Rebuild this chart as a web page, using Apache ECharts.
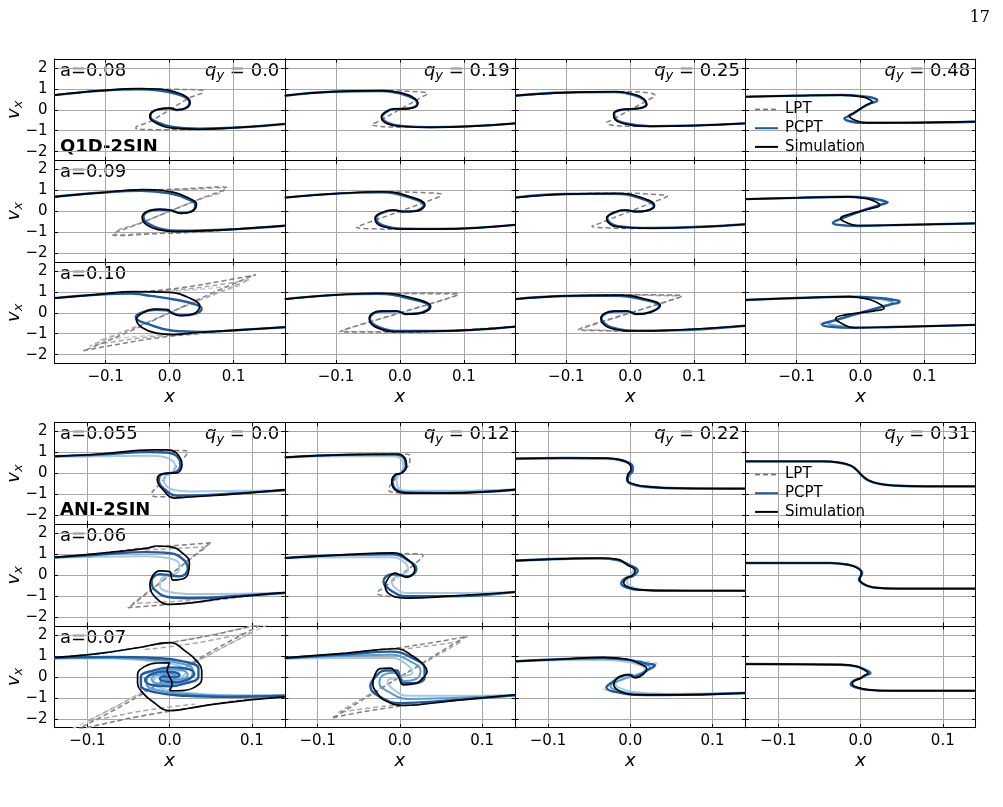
<!DOCTYPE html>
<html>
<head>
<meta charset="utf-8">
<script src="https://cdn.jsdelivr.net/npm/echarts@6.0.0/dist/echarts.min.js"></script>
<style>
  html, body { margin: 0; padding: 0; background: #fff; }
  #chart { width: 1003px; height: 807px; }
</style>
</head>
<body>
<div id="chart"></div>
<script>
// ---- labels and axis limits ----
const blockNames = ['Q1D-2SIN', 'ANI-2SIN'];
const q1dA = ['a=0.08', 'a=0.09', 'a=0.10'];
const q1dQy = ['0.0', '0.19', '0.25', '0.48'];
const aniA = ['a=0.055', 'a=0.06', 'a=0.07'];
const aniQy = ['0.0', '0.12', '0.22', '0.31'];
const xLimits = [0.18, 0.14];
const vLimit = 2.42;
const legendNames = ['LPT', 'PCPT', 'Simulation'];

// ---- Q1D-2SIN, a=0.08 ----
const q1d_a008_q000_lpt = [[-0.18,0.70],[-0.109,0.90],[-0.04,0.98],[0.02,0.97],[0.048,0.94],[0.053,0.89],[0.03,0.55],[0.0,0.0],[-0.03,-0.55],[-0.053,-0.87],[-0.048,-0.92],[-0.02,-0.95],[0.04,-0.95],[0.11,-0.84],[0.18,-0.68]];
const q1d_a008_q000_pcpt = [[-0.18,0.70],[-0.109,0.90],[-0.05,0.97],[-0.016,0.92],[0.010,0.76],[0.026,0.56],[0.031,0.33],[0.025,0.08],[0.012,-0.01],[0.0,0.07],[-0.015,0.03],[-0.028,-0.12],[-0.030,-0.33],[-0.019,-0.60],[0.005,-0.82],[0.047,-0.90],[0.11,-0.84],[0.18,-0.68]];
const q1d_a008_q000_sim = [[-0.18,0.70],[-0.109,0.91],[-0.047,1.01],[-0.016,0.99],[0.010,0.83],[0.026,0.62],[0.032,0.35],[0.026,0.08],[0.012,-0.01],[0.0,0.08],[-0.015,0.04],[-0.028,-0.12],[-0.031,-0.33],[-0.020,-0.65],[0.005,-0.88],[0.047,-0.93],[0.11,-0.84],[0.18,-0.68]];

const q1d_a008_q019_lpt = [[-0.18,0.67],[-0.104,0.86],[-0.02,0.90],[0.03,0.85],[0.043,0.77],[0.035,0.62],[0.0,0.02],[-0.035,-0.58],[-0.044,-0.70],[-0.035,-0.78],[0.0,-0.83],[0.047,-0.84],[0.18,-0.65]];
const q1d_a008_q019_pcpt = [[-0.18,0.67],[-0.104,0.86],[-0.03,0.89],[0.003,0.75],[0.022,0.52],[0.027,0.30],[0.020,0.10],[0.005,0.04],[-0.010,0.03],[-0.022,-0.12],[-0.028,-0.32],[-0.019,-0.62],[0.007,-0.78],[0.047,-0.83],[0.18,-0.65]];
const q1d_a008_q019_sim = [[-0.18,0.67],[-0.104,0.86],[-0.026,0.91],[0.005,0.78],[0.023,0.54],[0.028,0.31],[0.021,0.10],[0.005,0.04],[-0.010,0.04],[-0.023,-0.12],[-0.029,-0.33],[-0.021,-0.65],[0.005,-0.80],[0.047,-0.84],[0.18,-0.65]];

const q1d_a008_q025_lpt = [[-0.18,0.67],[-0.10,0.82],[-0.01,0.86],[0.03,0.80],[0.039,0.68],[0.03,0.50],[0.0,0.0],[-0.03,-0.50],[-0.037,-0.62],[-0.025,-0.75],[0.0,-0.79],[0.031,-0.79],[0.18,-0.65]];
const q1d_a008_q025_pcpt = [[-0.18,0.67],[-0.10,0.82],[-0.024,0.84],[0.008,0.68],[0.021,0.48],[0.025,0.25],[0.014,0.07],[0.0,0.03],[-0.015,-0.01],[-0.025,-0.18],[-0.024,-0.40],[-0.008,-0.64],[0.031,-0.78],[0.18,-0.65]];
const q1d_a008_q025_sim = [[-0.18,0.67],[-0.10,0.82],[-0.021,0.86],[0.010,0.70],[0.022,0.50],[0.026,0.26],[0.015,0.07],[0.0,0.04],[-0.015,0.0],[-0.026,-0.18],[-0.025,-0.40],[-0.010,-0.66],[0.031,-0.79],[0.18,-0.65]];

const q1d_a008_q048_lpt = [[-0.03,0.70],[0.012,0.62],[0.026,0.50],[0.027,0.44],[0.015,0.29],[0.0,0.05],[-0.015,-0.25],[-0.026,-0.43],[-0.021,-0.53],[0.0,-0.62]];
const q1d_a008_q048_pcpt = [[-0.18,0.62],[-0.10,0.67],[-0.03,0.70],[0.010,0.62],[0.024,0.52],[0.026,0.44],[0.015,0.30],[0.0,0.05],[-0.015,-0.25],[-0.025,-0.42],[-0.020,-0.52],[0.0,-0.62],[0.06,-0.62],[0.18,-0.57]];
const q1d_a008_q048_sim = [[-0.18,0.62],[-0.10,0.67],[-0.03,0.70],[0.005,0.60],[0.016,0.45],[0.018,0.38],[0.008,0.22],[0.0,0.05],[-0.010,-0.15],[-0.018,-0.28],[-0.012,-0.45],[0.010,-0.63],[0.06,-0.62],[0.18,-0.57]];

// ---- Q1D-2SIN, a=0.09 ----
const q1d_a009_q000_lpt = [[-0.18,0.69],[-0.11,0.88],[-0.04,1.0],[0.03,1.08],[0.08,1.16],[0.089,1.13],[0.05,0.62],[0.0,0.0],[-0.05,-0.62],[-0.089,-1.13],[-0.08,-1.16],[-0.03,-1.08],[0.04,-1.0],[0.11,-0.84],[0.18,-0.69]];
const q1d_a009_q000_lpt2 = [[-0.04,1.0],[0.03,1.05],[0.085,1.12],[0.086,1.08],[0.04,0.5],[0.0,0.0],[-0.04,-0.5],[-0.086,-1.08],[-0.085,-1.12],[-0.03,-1.05],[0.04,-1.0]];
const q1d_a009_q000_pcpt = [[-0.18,0.69],[-0.11,0.88],[-0.045,0.98],[0.0,0.85],[0.028,0.58],[0.040,0.30],[0.033,-0.02],[0.018,-0.08],[0.0,0.05],[-0.016,0.08],[-0.034,-0.02],[-0.041,-0.27],[-0.033,-0.60],[-0.012,-0.85],[0.015,-0.93],[0.05,-0.92],[0.11,-0.84],[0.18,-0.69]];
const q1d_a009_q000_sim = [[-0.18,0.69],[-0.11,0.88],[-0.042,1.03],[0.005,0.91],[0.031,0.61],[0.042,0.33],[0.034,-0.02],[0.018,-0.10],[0.0,0.06],[-0.016,0.09],[-0.036,-0.02],[-0.043,-0.29],[-0.036,-0.65],[-0.016,-0.89],[0.010,-0.97],[0.047,-0.94],[0.11,-0.84],[0.18,-0.69]];

const q1d_a009_q019_lpt = [[-0.18,0.65],[-0.10,0.84],[-0.02,0.92],[0.04,0.88],[0.065,0.80],[0.062,0.70],[0.0,0.0],[-0.062,-0.68],[-0.068,-0.76],[-0.04,-0.84],[0.0,-0.86],[0.06,-0.85],[0.18,-0.65]];
const q1d_a009_q019_pcpt = [[-0.18,0.65],[-0.10,0.84],[-0.028,0.90],[0.014,0.66],[0.037,0.30],[0.025,0.02],[0.005,-0.01],[-0.010,0.05],[-0.030,-0.10],[-0.037,-0.33],[-0.024,-0.70],[0.007,-0.83],[0.06,-0.84],[0.18,-0.65]];
const q1d_a009_q019_sim = [[-0.18,0.65],[-0.10,0.84],[-0.026,0.93],[0.016,0.69],[0.039,0.30],[0.026,0.01],[0.005,-0.02],[-0.010,0.06],[-0.031,-0.10],[-0.039,-0.34],[-0.026,-0.74],[0.005,-0.85],[0.06,-0.85],[0.18,-0.65]];

const q1d_a009_q025_lpt = [[-0.18,0.65],[-0.10,0.82],[-0.01,0.86],[0.04,0.80],[0.058,0.72],[0.05,0.60],[0.0,0.0],[-0.05,-0.60],[-0.06,-0.72],[-0.04,-0.79],[0.0,-0.82],[0.031,-0.81],[0.18,-0.62]];
const q1d_a009_q025_pcpt = [[-0.18,0.65],[-0.10,0.82],[-0.024,0.83],[0.013,0.65],[0.037,0.25],[0.024,0.02],[0.010,-0.01],[-0.008,0.05],[-0.024,-0.05],[-0.036,-0.32],[-0.019,-0.71],[0.031,-0.80],[0.18,-0.62]];
const q1d_a009_q025_sim = [[-0.18,0.65],[-0.10,0.82],[-0.021,0.85],[0.015,0.68],[0.038,0.26],[0.025,0.02],[0.010,-0.02],[-0.008,0.06],[-0.025,-0.05],[-0.037,-0.34],[-0.021,-0.74],[0.031,-0.81],[0.18,-0.62]];

const q1d_a009_q048_lpt = [[-0.02,0.69],[0.018,0.62],[0.038,0.50],[0.043,0.43],[0.03,0.30],[0.0,0.0],[-0.03,-0.35],[-0.044,-0.56],[-0.036,-0.65],[-0.005,-0.70]];
const q1d_a009_q048_pcpt = [[-0.18,0.58],[-0.10,0.64],[-0.02,0.69],[0.015,0.62],[0.035,0.50],[0.042,0.43],[0.030,0.30],[0.0,0.0],[-0.030,-0.35],[-0.043,-0.56],[-0.035,-0.65],[-0.005,-0.70],[0.05,-0.66],[0.18,-0.58]];
const q1d_a009_q048_sim = [[-0.18,0.58],[-0.10,0.64],[-0.02,0.69],[0.010,0.60],[0.026,0.42],[0.030,0.27],[0.018,0.15],[0.0,0.0],[-0.018,-0.15],[-0.031,-0.33],[-0.025,-0.50],[-0.005,-0.68],[0.05,-0.66],[0.18,-0.58]];

// ---- Q1D-2SIN, a=0.10 ----
const q1d_a010_q000_lpt = [[-0.18,0.70],[-0.11,0.88],[-0.045,1.0],[0.02,1.2],[0.08,1.5],[0.135,1.81],[0.125,1.70],[0.06,0.85],[0.0,0.0],[-0.06,-0.85],[-0.125,-1.70],[-0.135,-1.81],[-0.08,-1.5],[-0.02,-1.2],[0.045,-1.0],[0.11,-0.82],[0.18,-0.69]];
const q1d_a010_q000_lpt2 = [[-0.045,1.0],[0.03,1.15],[0.09,1.40],[0.125,1.58],[0.115,1.45],[0.05,0.65],[0.0,0.0],[-0.05,-0.65],[-0.115,-1.45],[-0.125,-1.58],[-0.09,-1.40],[-0.03,-1.15],[0.045,-1.0]];
const q1d_a010_q000_lpt3 = [[-0.04,0.98],[0.03,1.08],[0.09,1.25],[0.11,1.30],[0.10,1.20],[0.04,0.50],[0.0,0.0],[-0.04,-0.50],[-0.10,-1.20],[-0.11,-1.30],[-0.09,-1.25],[-0.03,-1.08],[0.04,-0.98]];
const q1d_a010_q000_pcpt = [[-0.18,0.70],[-0.11,0.87],[-0.06,0.92],[-0.042,0.86],[0.010,0.62],[0.042,0.38],[0.050,0.20],[0.040,-0.05],[0.020,-0.12],[0.003,0.0],[-0.005,0.12],[-0.022,0.14],[-0.045,0.0],[-0.053,-0.22],[-0.031,-0.57],[0.005,-0.86],[0.05,-0.91],[0.11,-0.82],[0.18,-0.69]];
const q1d_a010_q000_sim = [[-0.18,0.70],[-0.11,0.88],[-0.057,1.01],[0.0,0.97],[0.031,0.70],[0.047,0.31],[0.036,-0.06],[0.016,-0.14],[0.003,-0.01],[-0.003,0.15],[-0.021,0.18],[-0.042,-0.01],[-0.052,-0.33],[-0.042,-0.73],[-0.021,-0.97],[0.005,-1.04],[0.047,-0.93],[0.11,-0.82],[0.18,-0.69]];

const q1d_a010_q019_lpt = [[-0.18,0.65],[-0.10,0.85],[-0.02,0.93],[0.05,0.93],[0.092,0.92],[0.088,0.82],[0.0,0.0],[-0.088,-0.82],[-0.094,-0.90],[-0.05,-0.92],[0.0,-0.92],[0.06,-0.88],[0.18,-0.66]];
const q1d_a010_q019_lpt2 = [[-0.02,0.92],[0.05,0.90],[0.09,0.88],[0.085,0.78],[0.0,-0.02],[-0.085,-0.78],[-0.09,-0.88],[-0.05,-0.90],[0.0,-0.92]];
const q1d_a010_q019_pcpt = [[-0.18,0.65],[-0.10,0.85],[-0.035,0.90],[0.018,0.65],[0.046,0.28],[0.030,-0.02],[0.010,-0.06],[-0.005,0.07],[-0.030,0.06],[-0.047,-0.27],[-0.033,-0.68],[0.003,-0.87],[0.06,-0.87],[0.18,-0.66]];
const q1d_a010_q019_sim = [[-0.18,0.65],[-0.10,0.85],[-0.031,0.93],[0.021,0.69],[0.048,0.29],[0.031,-0.03],[0.010,-0.07],[-0.005,0.08],[-0.031,0.08],[-0.048,-0.27],[-0.036,-0.71],[0.0,-0.90],[0.06,-0.88],[0.18,-0.66]];

const q1d_a010_q025_lpt = [[-0.18,0.65],[-0.10,0.80],[-0.01,0.86],[0.05,0.85],[0.081,0.82],[0.076,0.72],[0.0,0.0],[-0.076,-0.72],[-0.081,-0.80],[-0.05,-0.85],[0.0,-0.87],[0.06,-0.84],[0.18,-0.62]];
const q1d_a010_q025_lpt2 = [[-0.01,0.85],[0.05,0.82],[0.078,0.78],[0.07,0.68],[0.0,-0.02],[-0.07,-0.70],[-0.078,-0.78],[-0.05,-0.83],[0.0,-0.86]];
const q1d_a010_q025_pcpt = [[-0.18,0.65],[-0.10,0.80],[-0.02,0.81],[0.018,0.64],[0.045,0.32],[0.030,0.02],[0.010,-0.06],[-0.005,0.07],[-0.025,0.06],[-0.045,-0.26],[-0.029,-0.70],[0.012,-0.85],[0.06,-0.84],[0.18,-0.62]];
const q1d_a010_q025_sim = [[-0.18,0.65],[-0.10,0.80],[-0.016,0.84],[0.020,0.68],[0.047,0.34],[0.031,0.02],[0.010,-0.07],[-0.005,0.08],[-0.026,0.08],[-0.046,-0.27],[-0.031,-0.74],[0.010,-0.87],[0.06,-0.84],[0.18,-0.62]];

const q1d_a010_q048_lpt = [[-0.02,0.76],[0.035,0.68],[0.062,0.58],[0.064,0.52],[0.045,0.36],[0.0,0.0],[-0.045,-0.38],[-0.064,-0.54],[-0.058,-0.62],[-0.01,-0.72]];
const q1d_a010_q048_pcpt2 = [[-0.02,0.76],[0.025,0.68],[0.048,0.55],[0.050,0.48],[0.035,0.32],[0.0,0.0],[-0.035,-0.34],[-0.050,-0.50],[-0.042,-0.60],[-0.01,-0.71]];
const q1d_a010_q048_pcpt = [[-0.18,0.61],[-0.10,0.70],[-0.02,0.76],[0.030,0.70],[0.055,0.60],[0.061,0.53],[0.045,0.38],[0.0,0.0],[-0.045,-0.40],[-0.060,-0.56],[-0.050,-0.66],[-0.01,-0.72],[0.05,-0.68],[0.18,-0.58]];
const q1d_a010_q048_sim = [[-0.18,0.61],[-0.10,0.70],[-0.016,0.77],[0.015,0.62],[0.032,0.38],[0.037,0.21],[0.020,0.08],[0.0,0.0],[-0.020,-0.08],[-0.039,-0.27],[-0.030,-0.50],[-0.010,-0.71],[0.05,-0.68],[0.18,-0.58]];

// ---- ANI-2SIN, a=0.055 ----
const ani_a0055_q000_lpt = [[-0.14,0.82],[-0.085,0.93],[-0.02,1.05],[0.015,1.10],[0.022,1.05],[0.012,0.50],[0.0,0.0],[-0.012,-0.50],[-0.022,-1.0],[-0.015,-1.10],[0.02,-1.08],[0.077,-0.98],[0.14,-0.77]];
const ani_a0055_q000_pcpt3 = [[-0.14,0.80],[-0.085,0.82],[-0.025,0.85],[-0.005,0.78],[0.005,0.55],[0.007,0.25],[0.0,0.0],[-0.007,-0.25],[-0.005,-0.55],[0.005,-0.78],[0.025,-0.85],[0.085,-0.82],[0.14,-0.80]];
const ani_a0055_q000_pcpt = [[-0.14,0.82],[-0.085,0.90],[-0.025,1.02],[-0.005,1.0],[0.008,0.85],[0.013,0.42],[0.006,0.05],[-0.004,0.0],[-0.012,-0.10],[-0.013,-0.35],[-0.006,-0.75],[0.008,-1.05],[0.025,-1.05],[0.077,-0.95],[0.14,-0.80]];
const ani_a0055_q000_sim = [[-0.14,0.82],[-0.085,0.93],[-0.02,1.13],[-0.004,1.13],[0.008,0.98],[0.015,0.42],[0.008,0.02],[-0.002,0.02],[-0.012,-0.06],[-0.015,-0.29],[-0.008,-0.77],[0.006,-1.17],[0.02,-1.13],[0.077,-0.98],[0.14,-0.77]];

const ani_a0055_q012_lpt = [[-0.14,0.77],[-0.065,0.90],[0.0,0.93],[0.012,0.85],[0.012,0.58],[0.0,0.0],[-0.012,-0.58],[-0.014,-0.78],[0.0,-0.92],[0.057,-0.93],[0.14,-0.77]];
const ani_a0055_q012_pcpt3 = [[-0.14,0.75],[-0.065,0.82],[-0.01,0.82],[0.003,0.60],[0.004,0.30],[0.0,0.0],[-0.004,-0.30],[-0.003,-0.60],[0.01,-0.82],[0.065,-0.82],[0.14,-0.75]];
const ani_a0055_q012_pcpt = [[-0.14,0.77],[-0.065,0.89],[-0.006,0.90],[0.005,0.72],[0.007,0.34],[0.002,0.03],[-0.005,-0.06],[-0.009,-0.36],[-0.005,-0.75],[0.008,-0.90],[0.057,-0.92],[0.14,-0.77]];
const ani_a0055_q012_sim = [[-0.14,0.77],[-0.065,0.90],[-0.004,0.93],[0.006,0.74],[0.008,0.34],[0.002,0.02],[-0.006,-0.06],[-0.010,-0.37],[-0.006,-0.77],[0.008,-0.93],[0.057,-0.93],[0.14,-0.77]];

const ani_a0055_q022_pcpt3 = [[-0.14,0.70],[-0.08,0.72],[-0.03,0.70],[-0.008,0.58],[0.004,0.30],[0.0,0.0],[-0.004,-0.30],[0.008,-0.58],[0.03,-0.68],[0.08,-0.72],[0.14,-0.72]];
const ani_a0055_q022_pcpt = [[-0.14,0.71],[-0.08,0.74],[-0.03,0.72],[-0.010,0.62],[0.002,0.40],[0.003,0.15],[-0.002,-0.10],[-0.003,-0.35],[0.006,-0.55],[0.022,-0.63],[0.06,-0.70],[0.14,-0.72]];
const ani_a0055_q022_sim = [[-0.14,0.71],[-0.08,0.74],[-0.03,0.73],[-0.012,0.66],[-0.001,0.45],[0.001,0.20],[-0.003,-0.05],[-0.004,-0.30],[0.004,-0.50],[0.020,-0.62],[0.06,-0.70],[0.14,-0.72]];

const ani_a0055_q031_pcpt = [[-0.14,0.58],[-0.08,0.58],[-0.045,0.58],[-0.025,0.51],[-0.012,0.37],[-0.004,0.14],[0.002,-0.11],[0.010,-0.34],[0.024,-0.50],[0.045,-0.58],[0.08,-0.61],[0.14,-0.61]];
const ani_a0055_q031_sim = [[-0.14,0.58],[-0.08,0.58],[-0.045,0.58],[-0.025,0.52],[-0.012,0.38],[-0.004,0.15],[0.002,-0.10],[0.010,-0.33],[0.024,-0.50],[0.045,-0.58],[0.08,-0.61],[0.14,-0.61]];

// ---- ANI-2SIN, a=0.06 ----
const ani_a006_q000_lpt = [[-0.14,0.85],[-0.085,1.04],[-0.03,1.30],[0.02,1.45],[0.051,1.55],[0.045,1.40],[0.0,0.0],[-0.045,-1.40],[-0.051,-1.55],[-0.02,-1.45],[0.03,-1.30],[0.085,-1.04],[0.14,-0.83]];
const ani_a006_q000_lpt2 = [[-0.03,1.20],[0.02,1.30],[0.045,1.35],[0.035,1.05],[0.0,0.0],[-0.035,-1.05],[-0.045,-1.35],[-0.02,-1.30],[0.03,-1.20]];
const ani_a006_q000_pcpt3 = [[-0.14,0.82],[-0.085,0.88],[-0.03,0.90],[0.0,0.80],[0.012,0.50],[0.010,0.15],[0.0,0.0],[-0.010,-0.15],[-0.012,-0.50],[0.0,-0.80],[0.03,-0.90],[0.085,-0.88],[0.14,-0.82]];
const ani_a006_q000_pcpt = [[-0.14,0.85],[-0.085,0.98],[-0.03,1.10],[0.0,1.05],[0.018,0.70],[0.022,0.30],[0.012,-0.05],[0.0,0.0],[-0.012,0.05],[-0.022,-0.30],[-0.018,-0.70],[0.0,-1.05],[0.03,-1.10],[0.085,-0.98],[0.14,-0.85]];
const ani_a006_q000_sim = [[-0.14,0.85],[-0.085,1.04],[-0.028,1.28],[-0.016,1.39],[0.0,1.36],[0.016,1.04],[0.024,0.57],[0.018,-0.15],[0.004,-0.23],[0.0,0.17],[-0.012,0.21],[-0.020,0.01],[-0.024,-0.47],[-0.016,-1.10],[0.0,-1.39],[0.020,-1.34],[0.077,-1.05],[0.14,-0.83]];

const ani_a006_q012_lpt = [[-0.14,0.82],[-0.065,0.98],[-0.005,1.03],[0.02,1.02],[0.028,0.95],[0.02,0.60],[0.0,0.0],[-0.02,-0.60],[-0.028,-0.85],[-0.02,-0.98],[0.008,-1.05],[0.06,-1.0],[0.14,-0.80]];
const ani_a006_q012_pcpt3 = [[-0.14,0.80],[-0.065,0.85],[-0.01,0.85],[0.006,0.60],[0.010,0.25],[0.0,0.0],[-0.010,-0.25],[-0.006,-0.60],[0.01,-0.85],[0.065,-0.85],[0.14,-0.80]];
const ani_a006_q012_pcpt = [[-0.14,0.82],[-0.065,0.97],[-0.01,1.0],[0.010,0.70],[0.020,0.30],[0.010,-0.05],[0.0,0.0],[-0.010,0.05],[-0.020,-0.30],[-0.010,-0.75],[0.008,-1.0],[0.06,-1.0],[0.14,-0.80]];
const ani_a006_q012_sim = [[-0.14,0.82],[-0.065,0.98],[-0.008,1.06],[0.012,0.66],[0.018,0.26],[0.008,-0.10],[0.0,0.02],[-0.006,0.10],[-0.014,-0.13],[-0.018,-0.53],[-0.008,-1.0],[0.008,-1.09],[0.06,-1.0],[0.14,-0.80]];

const ani_a006_q022_pcpt3 = [[-0.14,0.68],[-0.08,0.76],[-0.03,0.78],[-0.010,0.65],[0.004,0.30],[0.0,0.0],[-0.004,-0.30],[0.010,-0.65],[0.03,-0.74],[0.14,-0.74]];
const ani_a006_q022_pcpt = [[-0.14,0.69],[-0.08,0.78],[-0.037,0.80],[-0.015,0.72],[-0.002,0.50],[0.009,0.22],[0.004,-0.02],[-0.006,-0.15],[-0.011,-0.40],[-0.002,-0.62],[0.012,-0.70],[0.05,-0.73],[0.14,-0.74]];
const ani_a006_q022_sim = [[-0.14,0.69],[-0.08,0.78],[-0.037,0.82],[-0.015,0.75],[-0.004,0.50],[0.006,0.21],[0.003,0.0],[-0.004,-0.13],[-0.008,-0.37],[0.0,-0.60],[0.012,-0.70],[0.05,-0.74],[0.14,-0.74]];

const ani_a006_q031_pcpt = [[-0.14,0.58],[-0.08,0.58],[-0.037,0.58],[-0.015,0.50],[-0.004,0.36],[0.002,0.10],[-0.002,-0.21],[0.003,-0.41],[0.015,-0.58],[0.045,-0.64],[0.14,-0.64]];
const ani_a006_q031_sim = [[-0.14,0.58],[-0.08,0.58],[-0.037,0.58],[-0.015,0.50],[-0.004,0.35],[0.001,0.10],[-0.001,-0.21],[0.003,-0.40],[0.015,-0.58],[0.045,-0.64],[0.14,-0.64]];

// ---- ANI-2SIN, a=0.07 ----
const ani_a007_q000_lpt = [[-0.14,0.93],[-0.085,1.12],[-0.03,1.45],[0.04,1.90],[0.10,2.40],[0.11,2.45],[0.05,1.20],[0.0,0.0],[-0.05,-1.20],[-0.11,-2.45],[-0.10,-2.40],[-0.04,-1.90],[0.03,-1.45],[0.085,-1.12],[0.14,-0.95]];
const ani_a007_q000_lpt2 = [[-0.03,1.30],[0.03,1.60],[0.09,2.05],[0.10,2.10],[0.06,1.30],[0.0,0.0],[-0.06,-1.30],[-0.10,-2.10],[-0.09,-2.05],[-0.03,-1.60],[0.03,-1.30]];
const ani_a007_q000_lpt3 = [[-0.02,1.50],[0.05,2.0],[0.12,2.60],[0.13,2.70],[0.04,0.90],[0.0,0.0],[-0.04,-0.90],[-0.13,-2.70],[-0.12,-2.60],[-0.05,-2.0],[0.02,-1.50]];
const ani_a007_q000_pcpt3 = [[-0.14,0.90],[-0.07,0.88],[-0.02,0.75],[0.010,0.55],[0.020,0.25],[0.015,0.0],[0.0,-0.15],[-0.012,-0.05],[0.0,0.0],[0.012,0.05],[0.0,0.15],[-0.015,0.0],[-0.020,-0.25],[-0.010,-0.55],[0.02,-0.75],[0.07,-0.88],[0.14,-0.90]];
const ani_a007_q000_pcpt2 = [[-0.14,0.88],[-0.07,0.90],[-0.02,0.82],[0.012,0.65],[0.028,0.35],[0.027,0.0],[0.015,-0.25],[0.0,-0.35],[-0.016,-0.30],[-0.022,-0.10],[-0.015,0.10],[0.0,0.15],[0.008,0.05],[0.0,0.0],[-0.008,-0.05],[0.0,-0.15],[0.015,-0.10],[0.022,0.10],[0.016,0.30],[0.0,0.35],[-0.015,0.25],[-0.027,0.0],[-0.028,-0.35],[-0.012,-0.65],[0.02,-0.82],[0.07,-0.90],[0.14,-0.88]];
const ani_a007_q000_pcpt = [[-0.14,0.90],[-0.07,0.95],[-0.02,0.90],[0.015,0.75],[0.035,0.40],[0.035,0.0],[0.020,-0.30],[0.0,-0.45],[-0.020,-0.40],[-0.030,-0.15],[-0.022,0.12],[-0.008,0.25],[0.006,0.22],[0.012,0.08],[0.006,-0.03],[0.0,0.0],[-0.006,0.03],[-0.012,-0.08],[-0.006,-0.22],[0.008,-0.25],[0.022,-0.12],[0.030,0.15],[0.020,0.40],[0.0,0.45],[-0.020,0.30],[-0.035,0.0],[-0.035,-0.40],[-0.015,-0.75],[0.02,-0.90],[0.07,-0.95],[0.14,-0.90]];
const ani_a007_q000_sim = [[-0.14,0.93],[-0.085,1.12],[-0.037,1.40],[0.0,1.63],[0.020,1.20],[0.033,0.75],[0.039,0.32],[0.039,-0.10],[0.030,-0.50],[0.015,-0.65],[0.0,-0.66],[0.003,-0.30],[0.0,0.0],[-0.003,0.30],[0.0,0.67],[-0.015,0.66],[-0.030,0.50],[-0.039,0.10],[-0.039,-0.32],[-0.033,-0.75],[-0.020,-1.20],[0.0,-1.61],[0.037,-1.40],[0.085,-1.15],[0.14,-0.95]];

const ani_a007_q012_lpt = [[-0.14,0.90],[-0.065,1.13],[0.0,1.40],[0.05,1.70],[0.082,1.93],[0.075,1.80],[0.0,0.0],[-0.075,-1.80],[-0.083,-1.96],[-0.05,-1.70],[0.0,-1.40],[0.06,-1.15],[0.14,-0.85]];
const ani_a007_q012_lpt2 = [[0.0,1.30],[0.05,1.55],[0.075,1.70],[0.06,1.35],[0.0,0.0],[-0.06,-1.35],[-0.075,-1.70],[-0.05,-1.55],[0.0,-1.30]];
const ani_a007_q012_pcpt3 = [[-0.14,0.86],[-0.065,0.90],[-0.01,0.90],[0.008,0.60],[0.015,0.20],[0.0,0.0],[-0.015,-0.20],[-0.008,-0.60],[0.01,-0.90],[0.065,-0.90],[0.14,-0.86]];
const ani_a007_q012_pcpt2 = [[-0.14,0.88],[-0.065,1.0],[-0.01,1.05],[0.012,0.75],[0.025,0.30],[0.020,-0.10],[0.005,-0.20],[0.0,0.0],[-0.005,0.20],[-0.020,0.10],[-0.025,-0.30],[-0.012,-0.75],[0.01,-1.05],[0.065,-1.0],[0.14,-0.88]];
const ani_a007_q012_pcpt = [[-0.14,0.90],[-0.065,1.08],[-0.01,1.20],[0.015,0.90],[0.030,0.40],[0.030,0.0],[0.018,-0.30],[0.004,-0.30],[0.0,0.0],[-0.004,0.30],[-0.018,0.30],[-0.030,0.0],[-0.036,-0.45],[-0.022,-1.0],[0.0,-1.25],[0.06,-1.12],[0.14,-0.88]];
const ani_a007_q012_sim = [[-0.14,0.90],[-0.065,1.13],[-0.004,1.34],[0.016,0.98],[0.028,0.60],[0.033,0.26],[0.028,-0.05],[0.020,-0.30],[0.004,-0.38],[-0.002,0.02],[-0.012,0.42],[-0.024,0.39],[-0.031,0.05],[-0.033,-0.38],[-0.028,-0.75],[-0.020,-1.09],[0.004,-1.36],[0.06,-1.15],[0.14,-0.85]];

const ani_a007_q022_lpt = [[-0.02,0.90],[0.015,0.75],[0.033,0.60],[0.030,0.50],[0.0,0.0],[-0.030,-0.50],[-0.033,-0.55],[-0.015,-0.75],[0.02,-0.88]];
const ani_a007_q022_pcpt3 = [[-0.14,0.72],[-0.08,0.80],[-0.03,0.80],[0.0,0.68],[0.015,0.50],[0.018,0.35],[0.010,0.10],[0.0,0.0],[-0.010,-0.10],[-0.018,-0.35],[-0.012,-0.55],[0.005,-0.72],[0.04,-0.80],[0.14,-0.75]];
const ani_a007_q022_pcpt2 = [[-0.033,0.90],[0.0,0.78],[0.018,0.58],[0.024,0.45],[0.015,0.20],[0.0,0.0],[-0.015,-0.20],[-0.024,-0.45],[-0.016,-0.65],[0.005,-0.80],[0.04,-0.84]];
const ani_a007_q022_pcpt = [[-0.14,0.74],[-0.08,0.85],[-0.033,0.90],[0.0,0.80],[0.022,0.62],[0.030,0.55],[0.020,0.30],[0.006,0.0],[0.0,0.10],[-0.010,0.05],[-0.020,-0.20],[-0.029,-0.50],[-0.020,-0.70],[0.005,-0.85],[0.04,-0.86],[0.14,-0.77]];
const ani_a007_q022_sim = [[-0.14,0.74],[-0.08,0.85],[-0.033,0.93],[-0.005,0.85],[0.010,0.65],[0.020,0.39],[0.015,0.10],[0.006,-0.05],[-0.002,0.10],[-0.010,0.05],[-0.017,-0.10],[-0.020,-0.38],[-0.012,-0.70],[0.005,-0.85],[0.04,-0.86],[0.14,-0.77]];

const ani_a007_q031_pcpt = [[-0.14,0.61],[-0.08,0.60],[-0.024,0.58],[-0.005,0.50],[0.006,0.33],[0.012,0.18],[0.005,0.05],[0.0,-0.06],[-0.009,-0.20],[-0.012,-0.35],[-0.005,-0.51],[0.010,-0.62],[0.037,-0.66],[0.14,-0.66]];
const ani_a007_q031_sim = [[-0.14,0.61],[-0.08,0.60],[-0.024,0.58],[-0.005,0.50],[0.005,0.32],[0.009,0.18],[0.004,0.05],[0.0,-0.06],[-0.008,-0.20],[-0.010,-0.34],[-0.004,-0.50],[0.010,-0.62],[0.037,-0.66],[0.14,-0.66]];

// ---- which curves go in which panel (block, row, col) ----
const panels = [
  [0,0,0,{lpt:q1d_a008_q000_lpt, pcpt:q1d_a008_q000_pcpt, sim:q1d_a008_q000_sim}],
  [0,0,1,{lpt:q1d_a008_q019_lpt, pcpt:q1d_a008_q019_pcpt, sim:q1d_a008_q019_sim}],
  [0,0,2,{lpt:q1d_a008_q025_lpt, pcpt:q1d_a008_q025_pcpt, sim:q1d_a008_q025_sim}],
  [0,0,3,{lpt:q1d_a008_q048_lpt, pcpt:q1d_a008_q048_pcpt, sim:q1d_a008_q048_sim}],
  [0,1,0,{lpt:q1d_a009_q000_lpt, lpt2:q1d_a009_q000_lpt2, pcpt:q1d_a009_q000_pcpt, sim:q1d_a009_q000_sim}],
  [0,1,1,{lpt:q1d_a009_q019_lpt, pcpt:q1d_a009_q019_pcpt, sim:q1d_a009_q019_sim}],
  [0,1,2,{lpt:q1d_a009_q025_lpt, pcpt:q1d_a009_q025_pcpt, sim:q1d_a009_q025_sim}],
  [0,1,3,{lpt:q1d_a009_q048_lpt, pcpt:q1d_a009_q048_pcpt, sim:q1d_a009_q048_sim}],
  [0,2,0,{lpt:q1d_a010_q000_lpt, lpt2:q1d_a010_q000_lpt2, lpt3:q1d_a010_q000_lpt3, pcpt:q1d_a010_q000_pcpt, sim:q1d_a010_q000_sim}],
  [0,2,1,{lpt:q1d_a010_q019_lpt, lpt2:q1d_a010_q019_lpt2, pcpt:q1d_a010_q019_pcpt, sim:q1d_a010_q019_sim}],
  [0,2,2,{lpt:q1d_a010_q025_lpt, lpt2:q1d_a010_q025_lpt2, pcpt:q1d_a010_q025_pcpt, sim:q1d_a010_q025_sim}],
  [0,2,3,{lpt3:q1d_a010_q048_lpt, pcpt2:q1d_a010_q048_pcpt2, pcpt:q1d_a010_q048_pcpt, sim:q1d_a010_q048_sim}],
  [1,0,0,{lpt:ani_a0055_q000_lpt, pcpt3:ani_a0055_q000_pcpt3, pcpt:ani_a0055_q000_pcpt, sim:ani_a0055_q000_sim}],
  [1,0,1,{lpt:ani_a0055_q012_lpt, pcpt3:ani_a0055_q012_pcpt3, pcpt:ani_a0055_q012_pcpt, sim:ani_a0055_q012_sim}],
  [1,0,2,{pcpt3:ani_a0055_q022_pcpt3, pcpt:ani_a0055_q022_pcpt, sim:ani_a0055_q022_sim}],
  [1,0,3,{pcpt:ani_a0055_q031_pcpt, sim:ani_a0055_q031_sim}],
  [1,1,0,{lpt:ani_a006_q000_lpt, lpt2:ani_a006_q000_lpt2, pcpt3:ani_a006_q000_pcpt3, pcpt:ani_a006_q000_pcpt, sim:ani_a006_q000_sim}],
  [1,1,1,{lpt:ani_a006_q012_lpt, pcpt3:ani_a006_q012_pcpt3, pcpt:ani_a006_q012_pcpt, sim:ani_a006_q012_sim}],
  [1,1,2,{pcpt3:ani_a006_q022_pcpt3, pcpt:ani_a006_q022_pcpt, sim:ani_a006_q022_sim}],
  [1,1,3,{pcpt:ani_a006_q031_pcpt, sim:ani_a006_q031_sim}],
  [1,2,0,{lpt:ani_a007_q000_lpt, lpt2:ani_a007_q000_lpt2, lpt3:ani_a007_q000_lpt3, pcpt3:ani_a007_q000_pcpt3, pcpt2:ani_a007_q000_pcpt2, pcpt:ani_a007_q000_pcpt, sim:ani_a007_q000_sim}],
  [1,2,1,{lpt:ani_a007_q012_lpt, lpt2:ani_a007_q012_lpt2, pcpt3:ani_a007_q012_pcpt3, pcpt2:ani_a007_q012_pcpt2, pcpt:ani_a007_q012_pcpt, sim:ani_a007_q012_sim}],
  [1,2,2,{lpt3:ani_a007_q022_lpt, pcpt3:ani_a007_q022_pcpt3, pcpt2:ani_a007_q022_pcpt2, pcpt:ani_a007_q022_pcpt, sim:ani_a007_q022_sim}],
  [1,2,3,{pcpt:ani_a007_q031_pcpt, sim:ani_a007_q031_sim}]
];

// ---- styling / layout ----
const FONT = 'DejaVu Sans';
const colLeft = [54.5, 284.8, 515.1, 745.4];
const panelW = 230.3;
const blockTop = [59, 422.7];
const panelH = [101.5, 101.67];
const drawOrder = ['lpt3', 'lpt2', 'lpt', 'pcpt3', 'pcpt2', 'pcpt', 'sim'];
const curveStyle = {
  lpt:   { name: 'LPT',        color: '#808080', width: 1.5, type: [5, 3] },
  lpt2:  { name: 'LPT',        color: '#a8a8a8', width: 1.5, type: [5, 3] },
  lpt3:  { name: 'LPT',        color: '#cbcbcb', width: 1.5, type: [5, 3] },
  pcpt3: { name: 'PCPT',       color: '#a3c9e6', width: 2.0, type: 'solid' },
  pcpt2: { name: 'PCPT',       color: '#5a9bd0', width: 2.0, type: 'solid' },
  pcpt:  { name: 'PCPT',       color: '#1d5ba4', width: 2.4, type: 'solid' },
  sim:   { name: 'Simulation', color: '#000000', width: 1.7, type: 'solid' }
};

const minus = s => s.replace('-', '\u2212');
const xLabel = v => {
  const r = Math.round(v * 10) / 10;
  return Math.abs(v - r) > 1e-9 ? '' : minus(r.toFixed(1));
};
const yLabel = v => {
  const r = Math.round(v);
  return Math.abs(v - r) > 1e-9 ? '' : minus(String(r));
};

const grids = [], xAxes = [], yAxes = [], series = [], graphics = [];
const frameLine = { show: true, onZero: false, lineStyle: { color: '#000', width: 1 } };
const inTicks = { show: true, inside: true, length: 3.5, lineStyle: { color: '#000', width: 1 } };
const gridLine = { show: true, lineStyle: { color: '#a8a8a8', width: 1 } };
const labelFont = { fontFamily: FONT, fontSize: 15, color: '#000' };

panels.forEach(([b, r, c, curves], g) => {
  const xl = xLimits[b];
  grids.push({ left: colLeft[c], top: blockTop[b] + r * panelH[b], width: panelW, height: panelH[b], containLabel: false });
  const xBase = { type: 'value', gridIndex: g, min: -xl, max: xl, splitNumber: 3, axisLine: frameLine, axisTick: inTicks };
  xAxes.push(Object.assign({}, xBase, {
    position: 'bottom', splitLine: gridLine,
    axisLabel: Object.assign({ show: r === 2, margin: 6, formatter: xLabel, showMinLabel: false, showMaxLabel: false }, labelFont)
  }));
  xAxes.push(Object.assign({}, xBase, { position: 'top', splitLine: { show: false }, axisLabel: { show: false } }));
  const yBase = { type: 'value', gridIndex: g, min: -vLimit, max: vLimit, splitNumber: 5, axisLine: frameLine, axisTick: inTicks };
  yAxes.push(Object.assign({}, yBase, {
    position: 'left', splitLine: gridLine,
    axisLabel: Object.assign({ show: c === 0, margin: 7, formatter: yLabel, showMinLabel: false, showMaxLabel: false }, labelFont)
  }));
  yAxes.push(Object.assign({}, yBase, { position: 'right', splitLine: { show: false }, axisLabel: { show: false } }));

  drawOrder.forEach(kind => {
    if (!curves[kind]) return;
    const st = curveStyle[kind];
    series.push({
      type: 'line', name: st.name, xAxisIndex: 2 * g, yAxisIndex: 2 * g,
      data: curves[kind], symbol: 'none', showSymbol: false, smooth: 0.45,
      lineStyle: { color: st.color, width: st.width, type: st.type },
      itemStyle: { color: st.color }, silent: true, animation: false
    });
  });
});

// ---- annotations ----
function addText(x, y, style, extra) {
  graphics.push(Object.assign({ type: 'text', x: x, y: y, silent: true,
    style: Object.assign({ fill: '#000', fontFamily: FONT, fontSize: 18, verticalAlign: 'middle' }, style) }, extra || {}));
}
const qyRich = {
  q: { fontFamily: FONT, fontSize: 18, fontStyle: 'italic' },
  s: { fontFamily: FONT, fontSize: 13, fontStyle: 'italic', padding: [9, 0, 0, 0] },
  n: { fontFamily: FONT, fontSize: 18 }
};
const aLabels = [q1dA, aniA];
const qyLabels = [q1dQy, aniQy];
[0, 1].forEach(b => {
  const top = blockTop[b];
  for (let r = 0; r < 3; r++) {
    const rowTop = top + r * panelH[b];
    addText(colLeft[0] + 5.5, rowTop + 12, { text: aLabels[b][r], align: 'left' });
    addText(14, rowTop + panelH[b] / 2, {
      text: '{q|v}{s|x}', align: 'center', rich: qyRich
    }, { rotation: Math.PI / 2 });
  }
  for (let c = 0; c < 4; c++) {
    addText(colLeft[c] + panelW - 5.5, top + 12, {
      text: '{q|q}{s|y}{n| = ' + qyLabels[b][c] + '}', align: 'right', rich: qyRich
    });
    addText(colLeft[c] + panelW / 2, top + 3 * panelH[b] + 34, { text: 'x', align: 'center', fontStyle: 'italic' });
  }
  addText(colLeft[0] + 5.5, top + 88, { text: blockNames[b], align: 'left', fontWeight: 'bold' });
});
addText(990, 18, { text: '17', align: 'right', fontFamily: 'DejaVu Serif', fontSize: 16 });

const legends = [97, 462].map(t => ({
  data: legendNames, orient: 'vertical', left: 749, top: t,
  itemWidth: 23, itemHeight: 12, itemGap: 3.7, selectedMode: false,
  itemStyle: { opacity: 0 },
  textStyle: { fontFamily: FONT, fontSize: 15, color: '#000', lineHeight: 15, padding: [0, 0, 0, 2] }
}));

const chart = echarts.init(document.getElementById('chart'), null, { renderer: 'canvas' });
chart.setOption({
  backgroundColor: '#ffffff',
  animation: false,
  grid: grids,
  xAxis: xAxes,
  yAxis: yAxes,
  legend: legends,
  series: series,
  graphic: graphics
});
</script>
</body>
</html>
